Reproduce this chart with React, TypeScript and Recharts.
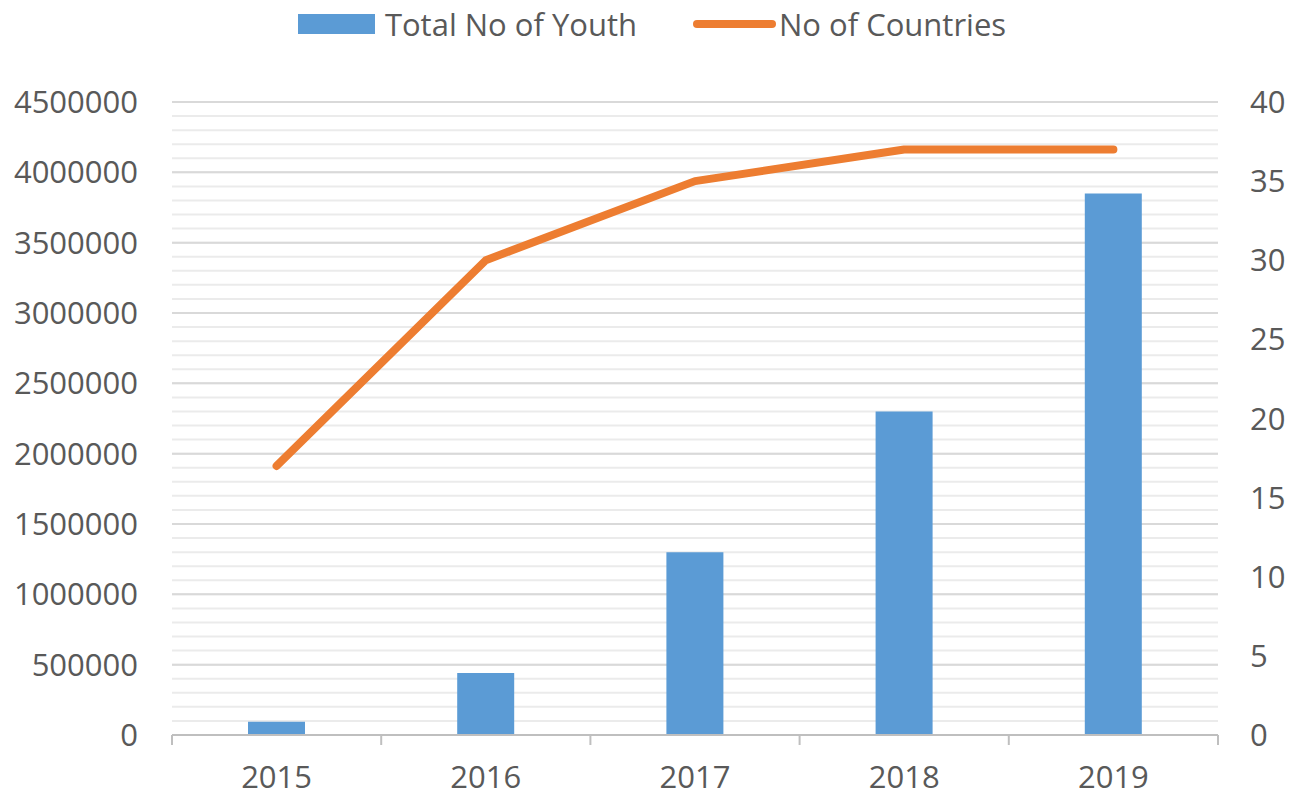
import React from 'react';
import { ComposedChart, Bar, Line, XAxis, YAxis, CartesianGrid, Legend } from 'recharts';

const years = ['2015', '2016', '2017', '2018', '2019'];
const totalYouth = [95000, 440000, 1300000, 2300000, 3850000];
const countries = [17, 30, 35, 37, 37];
const leftTicks = [0, 500000, 1000000, 1500000, 2000000, 2500000, 3000000, 3500000, 4000000, 4500000];
const rightTicks = [0, 5, 10, 15, 20, 25, 30, 35, 40];
const minorTicks = Array.from({ length: 46 }, (_, i) => i * 100000);
const leftDomain = [0, 4500000];

const data = years.map((y, i) => ({ year: y, youth: totalYouth[i], countries: countries[i] }));

const FONT = '"Open Sans", sans-serif';
const TEXT = '#595959';

const XTick = (props: any) => {
  const { x, y, payload, index, visibleTicksCount } = props;
  const half = payload && payload.offset ? payload.offset : 104.6;
  const axisY = y - 31;
  return (
    <g>
      <line x1={x - half} x2={x - half} y1={axisY} y2={axisY + 10} stroke="#bfbfbf" strokeWidth={2} />
      {index === visibleTicksCount - 1 && (
        <line x1={x + half} x2={x + half} y1={axisY} y2={axisY + 10} stroke="#bfbfbf" strokeWidth={2} />
      )}
      <text x={x} y={y} dy="0.71em" textAnchor="middle" fill={TEXT} fontSize={31} fontFamily={FONT}>
        {payload.value}
      </text>
    </g>
  );
};

const LegendContent = () => (
  <div style={{ display: 'flex', justifyContent: 'center', alignItems: 'center', width: 1304, height: 48, fontFamily: FONT, fontSize: 31, color: TEXT }}>
    <div style={{ display: 'flex', alignItems: 'center', marginRight: 56 }}>
      <div style={{ width: 77, height: 20, background: '#5b9bd5', marginRight: 10 }} />
      <span>Total No of Youth</span>
    </div>
    <div style={{ display: 'flex', alignItems: 'center' }}>
      <div style={{ width: 83, height: 8, borderRadius: 4, background: '#ed7d31', marginRight: 3 }} />
      <span>No of Countries</span>
    </div>
  </div>
);

const minorGen = (p: any) => {
  const ax = p && p.yAxis;
  const s = ax && ax.scale;
  const mapV = (v: number): number => {
    if (typeof s === 'function') return s(v);
    if (s && typeof s.map === 'function') return s.map(v);
    if (s && typeof s.scale === 'function') return s.scale(v);
    const off = p.offset;
    return off.top + off.height * (1 - (v - leftDomain[0]) / (leftDomain[1] - leftDomain[0]));
  };
  try {
    return minorTicks.map(mapV).filter((n) => typeof n === 'number' && !isNaN(n));
  } catch (e) {
    return [];
  }
};

export default function App() {
  return (
    <div style={{ width: 1304, height: 801, background: '#fff' }}>
      <style>{'body{margin:0}'}</style>
      <ComposedChart width={1304} height={801} data={data} margin={{ top: 54, right: 0, bottom: 0, left: 0 }}>
        <Legend verticalAlign="top" content={<LegendContent />} wrapperStyle={{ top: 0, left: 0, width: 1304, height: 48 }} />
        <CartesianGrid yAxisId="left" vertical={false} stroke="#ebebeb" strokeWidth={2} horizontalCoordinatesGenerator={minorGen} />
        <CartesianGrid yAxisId="left" vertical={false} stroke="#d9d9d9" strokeWidth={2} />
        <XAxis
          dataKey="year"
          height={66}
          axisLine={{ stroke: '#bfbfbf', strokeWidth: 2 }}
          tickLine={false}
          tickSize={9}
          tickMargin={22}
          tick={<XTick />}
          interval={0}
        />
        <YAxis
          yAxisId="left"
          width={172}
          domain={leftDomain}
          ticks={leftTicks}
          axisLine={false}
          tickLine={false}
          tickSize={0}
          tickMargin={34}
          tick={{ fill: TEXT, fontSize: 31, fontFamily: FONT }}
        />
        <YAxis
          yAxisId="right"
          orientation="right"
          width={86}
          domain={[0, 40]}
          ticks={rightTicks}
          axisLine={false}
          tickLine={false}
          tickSize={0}
          tickMargin={32}
          tick={{ fill: TEXT, fontSize: 31, fontFamily: FONT, textAnchor: 'start' }}
        />
        <Bar yAxisId="left" dataKey="youth" name="Total No of Youth" fill="#5b9bd5" barSize={57} isAnimationActive={false} />
        <Line yAxisId="right" dataKey="countries" name="No of Countries" stroke="#ed7d31" strokeWidth={8} strokeLinecap="round" strokeLinejoin="round" dot={false} activeDot={false} isAnimationActive={false} />
      </ComposedChart>
    </div>
  );
}
